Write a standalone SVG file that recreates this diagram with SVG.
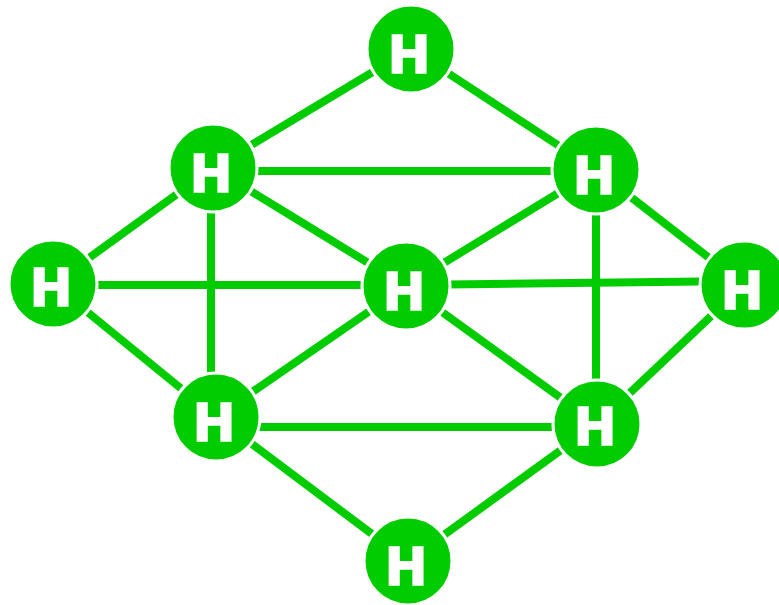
<svg xmlns="http://www.w3.org/2000/svg" width="779" height="605" viewBox="0 0 779 605">
  <style>
    .edge { stroke: #00cc00; stroke-width: 8; stroke-linecap: butt; fill: none; }
    .atom circle { fill: #00cc00; stroke: #ffffff; stroke-width: 3; }
    .atom text { fill: #ffffff; stroke: #ffffff; stroke-width: 1.5; font-family: "DejaVu Sans", "Liberation Sans", sans-serif; font-weight: bold; font-size: 51px; text-anchor: middle; }
  </style>
  <rect width="779" height="605" fill="#ffffff"/>
  <g id="edges">
    <line class="edge" x1="411" y1="49" x2="213" y2="168"/>
    <line class="edge" x1="411" y1="49" x2="596" y2="170"/>
    <line class="edge" x1="213" y1="171" x2="596" y2="171"/>
    <line class="edge" x1="213" y1="168" x2="53" y2="284"/>
    <line class="edge" x1="213" y1="168" x2="406" y2="286"/>
    <line class="edge" x1="211" y1="168" x2="211" y2="417"/>
    <line class="edge" x1="596" y1="170" x2="406" y2="286"/>
    <line class="edge" x1="596" y1="170" x2="744" y2="285"/>
    <line class="edge" x1="596" y1="170" x2="596" y2="424"/>
    <line class="edge" x1="53" y1="285" x2="406" y2="285"/>
    <line class="edge" x1="53" y1="284" x2="216" y2="417"/>
    <line class="edge" x1="406" y1="285" x2="744" y2="281"/>
    <line class="edge" x1="406" y1="286" x2="216" y2="417"/>
    <line class="edge" x1="406" y1="286" x2="597" y2="424"/>
    <line class="edge" x1="744" y1="285" x2="597" y2="424"/>
    <line class="edge" x1="216" y1="427" x2="597" y2="427"/>
    <line class="edge" x1="216" y1="417" x2="408" y2="561"/>
    <line class="edge" x1="597" y1="424" x2="408" y2="561"/>
  </g>
  <g id="h1" class="atom"><circle cx="411" cy="49" r="44"/><text x="409" y="73">H</text></g>
  <g id="h2" class="atom"><circle cx="213" cy="168" r="44"/><text x="211" y="192">H</text></g>
  <g id="h3" class="atom"><circle cx="596" cy="170" r="44"/><text x="594" y="194">H</text></g>
  <g id="h4" class="atom"><circle cx="53" cy="284" r="44"/><text x="51" y="306">H</text></g>
  <g id="h5" class="atom"><circle cx="406" cy="286" r="44"/><text x="404" y="310">H</text></g>
  <g id="h6" class="atom"><circle cx="744" cy="285" r="44"/><text x="742" y="309">H</text></g>
  <g id="h7" class="atom"><circle cx="216" cy="417" r="44"/><text x="214" y="441">H</text></g>
  <g id="h8" class="atom"><circle cx="597" cy="424" r="44"/><text x="595" y="445">H</text></g>
  <g id="h9" class="atom"><circle cx="408" cy="561" r="44"/><text x="406" y="585">H</text></g>
</svg>
